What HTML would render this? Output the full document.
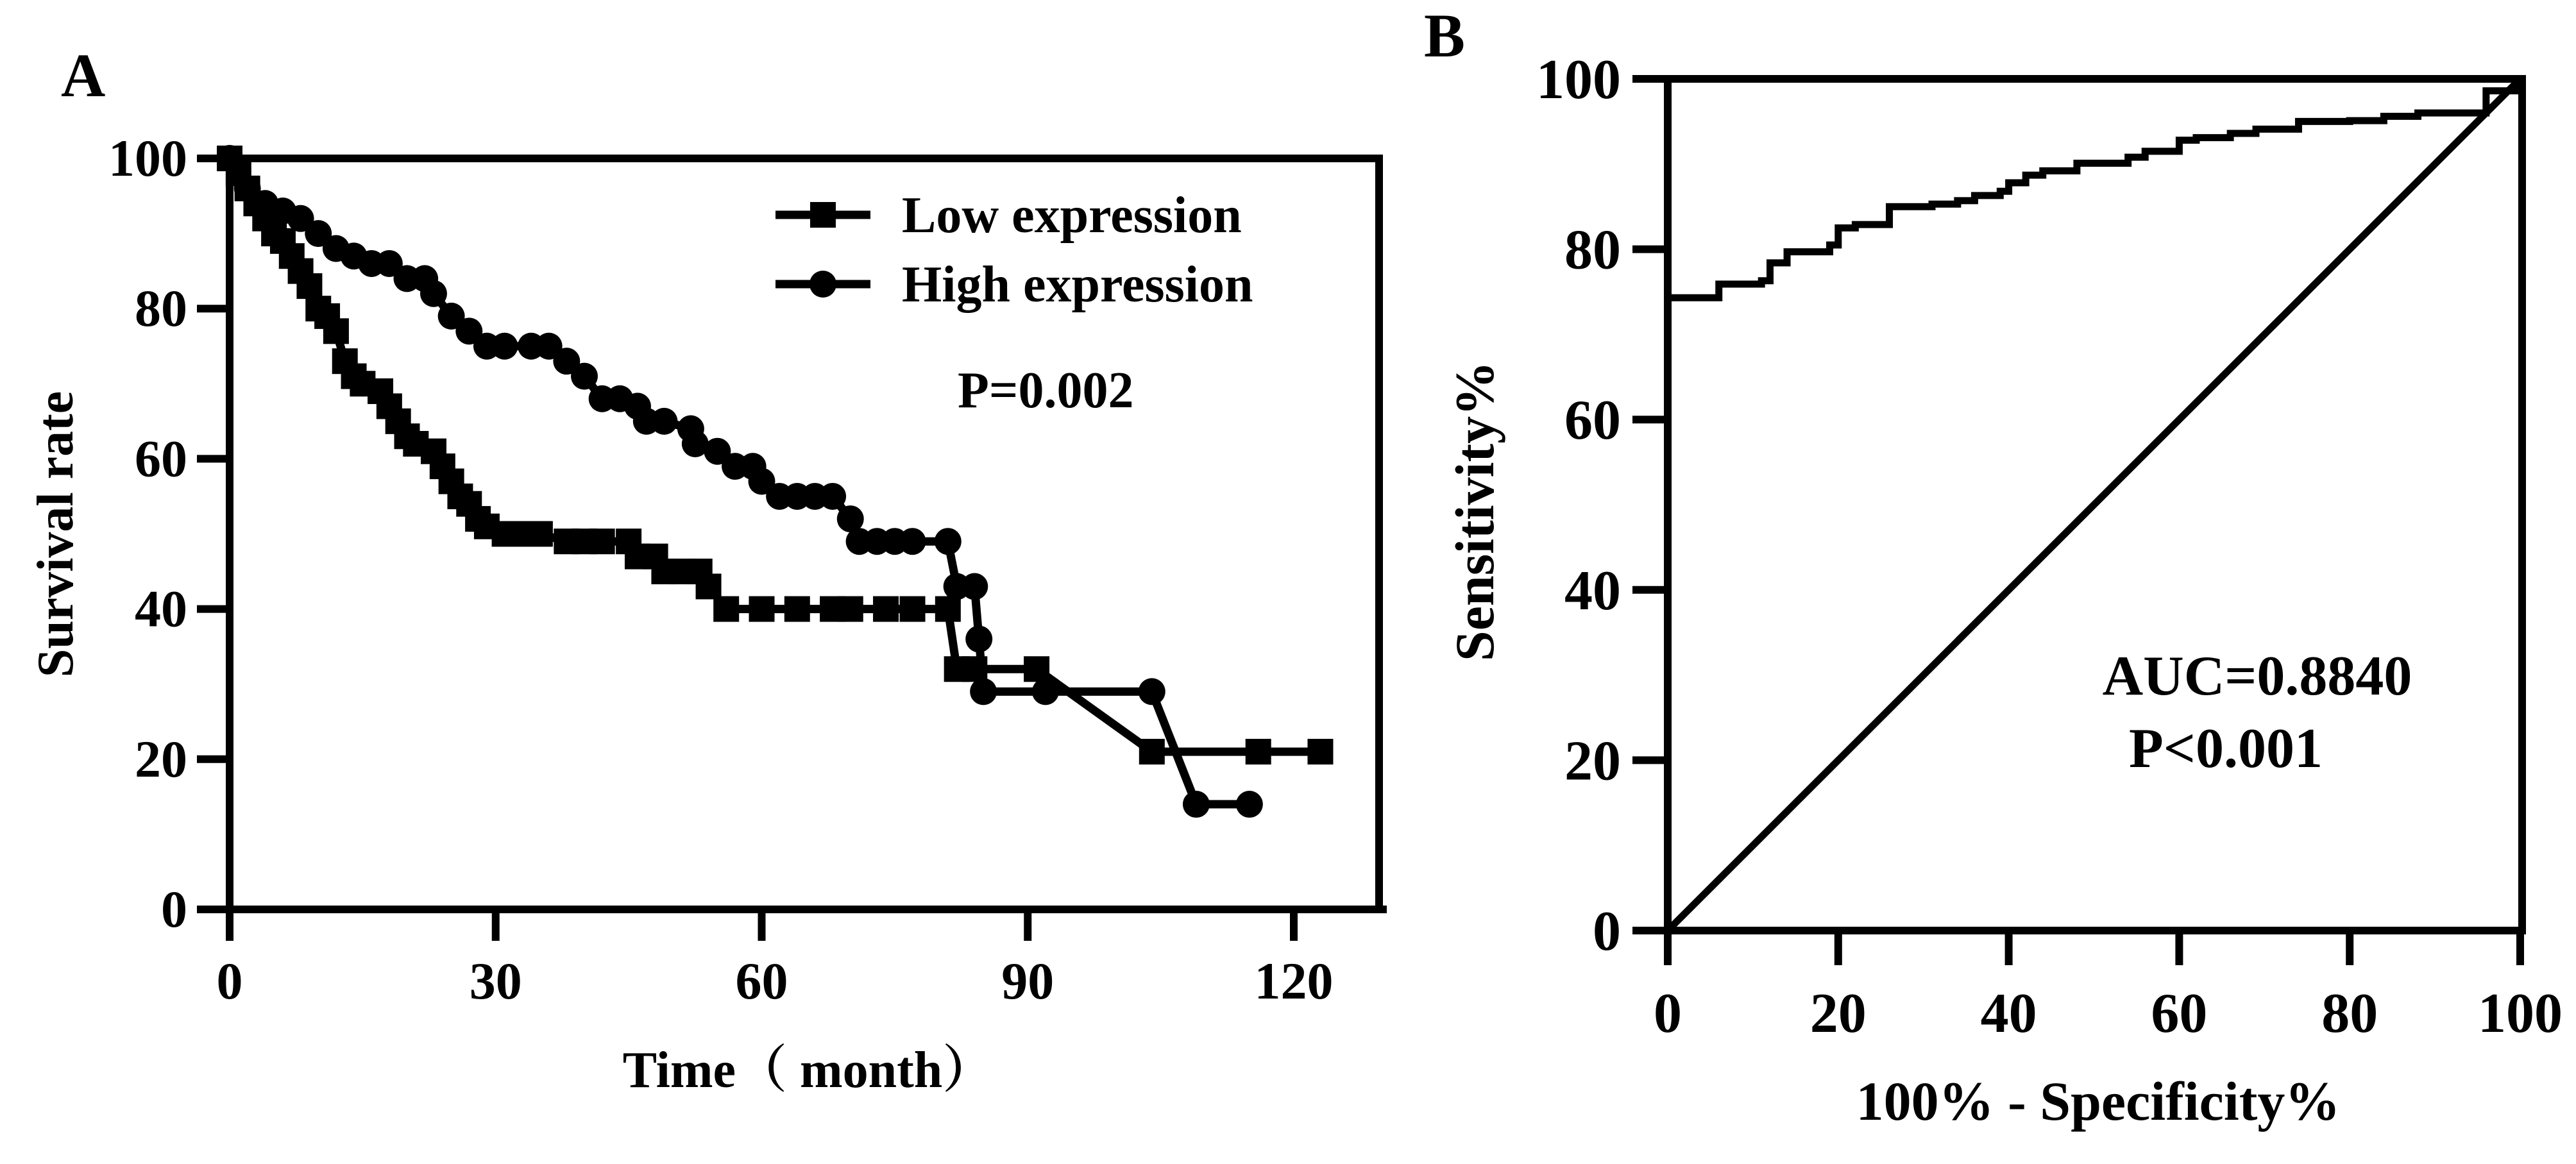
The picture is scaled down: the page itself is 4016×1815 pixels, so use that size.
<!DOCTYPE html>
<html><head><meta charset="utf-8"><style>
html,body{margin:0;padding:0;background:#fff;}
svg{display:block;}
text{font-family:"Liberation Serif","Noto Serif CJK SC",serif;font-weight:bold;fill:#000;}
</style></head><body>
<svg id="fig" width="4016" height="1815" viewBox="0 0 4016 1815" xmlns="http://www.w3.org/2000/svg">
<g id="panelA"></g>
<g id="panelB"></g>
</svg>
<script>
// Panel A data
const lowT = [0,1,2,3,4,5,6,7,8,9,10,11,12,13,14,15,17,18,19,20,21,23,24,25,26,27,28,29,31,33,35,38,40,42,45,46,48,49,51,53,54,56,60,64,68,70,74,77,81,82,84,91,104,116,123];
const lowS = [100,98,96,94,92,90,89,87,85,83,80,79,77,73,71,70,69,67,65,63,62,61,59,57,55,54,52,51,50,50,50,49,49,49,49,47,47,45,45,45,43,40,40,40,40,40,40,40,40,32,32,32,21,21,21];
const highT = [0,2,4,6,8,10,12,14,16,18,20,22,23,25,27,29,31,34,36,38,40,42,44,46,47,49,52,52.5,55,57,59,60,62,64,66,68,70,71,73,75,77,81,82,84,84.5,85,92,104,109,115];
const highS = [100,96,94,93,92,90,88,87,86,86,84,84,82,79,77,75,75,75,75,73,71,68,68,67,65,65,64,62,61,59,59,57,55,55,55,55,52,49,49,49,49,49,43,43,36,29,29,29,14,14];
const aXTicks = [0,30,60,90,120];
const aYTicks = [0,20,40,60,80,100];
// Panel B data
const fpr = [0,6,11,12,14,19,20,22,26,31,34,36,39,40,42,44,48,54,56,60,62,66,69,74,80,84,88,96,98,100];
const tpr = [74.3,75.9,76.3,78.4,79.7,80.5,82.5,82.9,85,85.3,85.7,86.3,86.8,87.8,88.7,89.2,90.1,90.8,91.5,92.8,93.1,93.6,94.1,95,95.1,95.6,96,98.6,98.6,100];
const bTicks = [0,20,40,60,80,100];

const NS = "http://www.w3.org/2000/svg";
function mk(parent, tag, attrs, txt){
  const e = document.createElementNS(NS, tag);
  for (const k in attrs) e.setAttribute(k, attrs[k]);
  if (txt !== undefined) e.textContent = txt;
  parent.appendChild(e);
  return e;
}
const A = document.getElementById('panelA');
const B = document.getElementById('panelB');

// ---- Panel A ----
const ax = v => 358 + (v/120)*(2017-358);
const ay = v => 1418 - (v/100)*(1418-247);
let t;
t = mk(A,'text',{x:95,y:150,'font-size':96});
t.textContent='A';


let fr = mk(A,'path',{d:`M358,1424 V247 H2150 V1418`,fill:'none',stroke:'#000','stroke-width':12});


let xl = mk(A,'line',{x1:352,y1:1418,x2:2162,y2:1418,stroke:'#000','stroke-width':12});


aYTicks.forEach(v=>{
  const l = mk(A,'line',{x1:307,y1:ay(v),x2:358,y2:ay(v),stroke:'#000','stroke-width':12});
  
  
  const tx = mk(A,'text',{x:292,y:ay(v)+27,'font-size':82,'text-anchor':'end'}, String(v));
  
  
});
aXTicks.forEach(v=>{
  const l = mk(A,'line',{x1:ax(v),y1:1418,x2:ax(v),y2:1467,stroke:'#000','stroke-width':12});
  
  
  const tx = mk(A,'text',{x:ax(v),y:1557,'font-size':82,'text-anchor':'middle'}, String(v));
  
  
});
t = mk(A,'text',{x:1260,y:1695,'font-size':80,'text-anchor':'middle'},'Time（ month）');


t = mk(A,'text',{x:0,y:0,'font-size':80,'text-anchor':'middle',transform:'translate(113,833) rotate(-90)'},'Survival rate');



function series(T,S,kind,name){
  const g = mk(A,'g',{});
  
  
  const pts = T.map((v,i)=>ax(v)+','+ay(S[i])).join(' ');
  mk(g,'polyline',{points:pts,fill:'none',stroke:'#000','stroke-width':13,'stroke-linejoin':'round'});
  T.forEach((v,i)=>{
    let m;
    if(kind==='sq') m = mk(g,'rect',{x:ax(v)-20,y:ay(S[i])-20,width:40,height:40,fill:'#000'});
    else m = mk(g,'circle',{cx:ax(v),cy:ay(S[i]),r:21,fill:'#000'});
    
    
  });
}
series(lowT,lowS,'sq','low-expression-series');
series(highT,highS,'ci','high-expression-series');

let lg = mk(A,'g',{});


let e1 = mk(lg,'g',{});


mk(e1,'line',{x1:1209,y1:335,x2:1357,y2:335,stroke:'#000','stroke-width':13});
mk(e1,'rect',{x:1263,y:315,width:40,height:40,fill:'#000'});
mk(e1,'text',{x:1406,y:362,'font-size':80},'Low expression');
let e2 = mk(lg,'g',{});


mk(e2,'line',{x1:1209,y1:443,x2:1357,y2:443,stroke:'#000','stroke-width':13});
mk(e2,'circle',{cx:1283,cy:443,r:21,fill:'#000'});
mk(e2,'text',{x:1406,y:470,'font-size':80},'High expression');
t = mk(A,'text',{x:1493,y:635,'font-size':80},'P=0.002');



// ---- Panel B ----
const bx = v => 2600 + (v/100)*(3929-2600);
const by = v => 1451 - (v/100)*(1451-123);
t = mk(B,'text',{x:2220,y:88,'font-size':96},'B');


fr = mk(B,'path',{d:`M2600,1457 V123 H3932 V1451`,fill:'none',stroke:'#000','stroke-width':12});


xl = mk(B,'line',{x1:2594,y1:1451,x2:3938,y2:1451,stroke:'#000','stroke-width':12});


bTicks.forEach(v=>{
  const l = mk(B,'line',{x1:2545,y1:by(v),x2:2600,y2:by(v),stroke:'#000','stroke-width':12});
  
  
  const tx = mk(B,'text',{x:2527,y:by(v)+30,'font-size':88,'text-anchor':'end'}, String(v));
  
  
  const l2 = mk(B,'line',{x1:bx(v),y1:1451,x2:bx(v),y2:1505,stroke:'#000','stroke-width':12});
  
  
  const tx2 = mk(B,'text',{x:bx(v),y:1609,'font-size':88,'text-anchor':'middle'}, String(v));
  
  
});
t = mk(B,'text',{x:3271,y:1746,'font-size':86,'text-anchor':'middle'},'100% - Specificity%');


t = mk(B,'text',{x:0,y:0,'font-size':86,'text-anchor':'middle',transform:'translate(2328,797) rotate(-90)'},'Sensitivity%');


let dg = mk(B,'line',{x1:bx(0),y1:by(0),x2:bx(100),y2:by(100),stroke:'#000','stroke-width':11});


let d = `M${bx(fpr[0])},${by(tpr[0])}`;
for(let i=1;i<fpr.length;i++){ d += ` H${bx(fpr[i])} V${by(tpr[i])}`; }
let rc = mk(B,'path',{d:d,fill:'none',stroke:'#000','stroke-width':11});


t = mk(B,'text',{x:3519,y:1083,'font-size':88,'text-anchor':'middle'},'AUC=0.8840');


t = mk(B,'text',{x:3470,y:1196,'font-size':88,'text-anchor':'middle'},'P<0.001');


</script>
</body></html>
